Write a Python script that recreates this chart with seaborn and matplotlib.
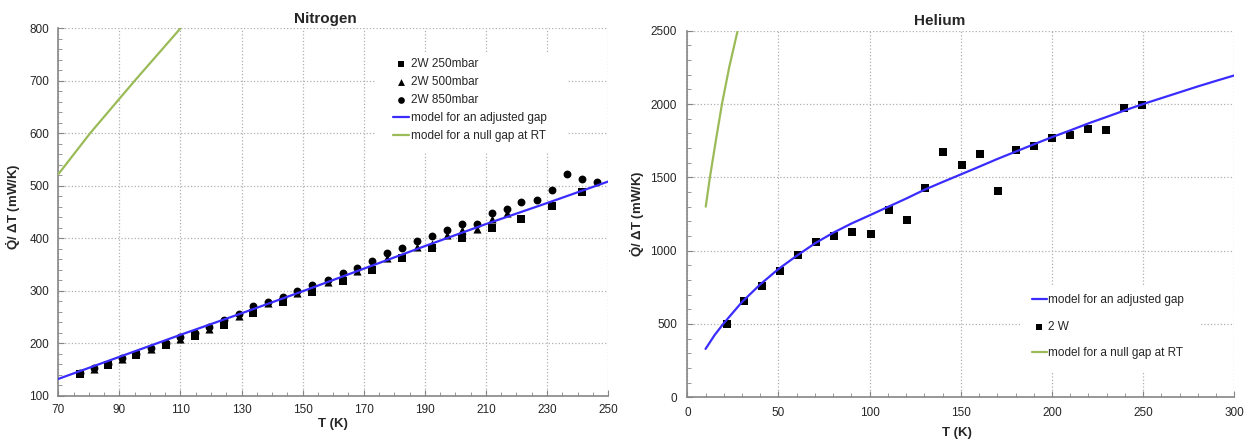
import numpy as np
import pandas as pd
import matplotlib.pyplot as plt
import seaborn as sns
from matplotlib.patches import Rectangle
from matplotlib.ticker import MultipleLocator

# ---- Nitrogen data (T in K, Q/dT in mW/K) ----
n2_250_t = [77.0, 86.3, 95.6, 105.1, 114.6, 124.3, 133.9, 143.5, 153.2, 163.1,
            172.8, 182.6, 192.4, 202.2, 212.0, 221.6, 231.5, 241.4]
n2_250_q = [141, 158, 177, 196, 214, 234, 258, 278, 298, 318,
            339, 362, 381, 400, 420, 437, 461, 488]

n2_500_t = [81.6, 90.8, 100.3, 109.9, 119.4, 129.0, 138.7, 148.3, 158.2, 167.8,
            177.7, 187.6, 192.4, 197.2, 202.2, 207.2, 212.0, 216.9]
n2_500_q = [150, 169, 189, 209, 228, 252, 276, 295, 316, 338,
            362, 384, 390, 407, 416, 418, 437, 449]

n2_850_t = [77.0, 81.6, 86.3, 90.8, 95.6, 100.3, 105.1, 109.9, 114.6, 119.4,
            124.3, 129.0, 133.9, 138.7, 143.5, 148.3, 153.2, 158.2, 163.1, 167.8,
            172.8, 177.7, 182.6, 187.6, 192.4, 197.2, 202.2, 207.2, 212.0, 216.9,
            221.6, 226.6, 231.5, 236.4, 241.4, 246.4]
n2_850_q = [144, 152, 160, 171, 180, 190, 200, 211, 220, 230,
            245, 255, 270, 278, 288, 299, 310, 321, 334, 343,
            356, 371, 381, 394, 404, 416, 428, 428, 448, 456,
            469, 473, 491, 522, 513, 508]

n2_fit_t = [70, 90, 110, 130, 150, 170, 190, 210, 230, 250]
n2_fit_q = [132, 174, 216, 257, 299, 342, 385, 427, 467, 508]

n2_null_t = [70, 80.4, 95, 110]
n2_null_q = [522, 600, 700, 800]

n2_xticks = [70, 90, 110, 130, 150, 170, 190, 210, 230, 250]

# ---- Helium data ----
he_t = [21.5, 31.3, 40.8, 50.6, 60.6, 70.6, 80.5, 90.5, 100.5, 110.5,
        120.5, 130.5, 140.4, 150.4, 160.4, 170.2, 180.4, 190.1, 200.1, 210.1,
        219.7, 229.6, 239.6, 249.6]
he_q = [499, 656, 762, 860, 973, 1059, 1103, 1125, 1114, 1277,
        1211, 1425, 1672, 1583, 1656, 1409, 1683, 1715, 1769, 1792,
        1828, 1824, 1971, 1996]

he_fit_t = [10, 15, 20, 30, 40, 50, 60, 70, 80, 90, 100, 110, 120, 130, 140, 150,
            160, 170, 180, 190, 200, 210, 220, 230, 240, 250, 260, 270, 280, 290, 300]
he_fit_q = [330, 425, 505, 650, 770, 875, 965, 1050, 1122, 1185, 1241, 1298, 1355,
            1415, 1468, 1520, 1572, 1625, 1675, 1725, 1774, 1820, 1868, 1912, 1957,
            2000, 2040, 2080, 2120, 2158, 2195]

he_null_t = [10.1, 12.4, 15.7, 19.0, 23.0, 27.6]
he_null_q = [1300, 1500, 1755, 2000, 2252, 2500]

BLUE = '#3a2cff'
GREEN = '#9bbb59'
YLABEL = r'$\mathbf{\dot{Q}}$/ ΔT (mW/K)'

sns.set_style("white")
plt.rcParams['font.family'] = ['Liberation Sans', 'DejaVu Sans']
plt.rcParams['mathtext.fontset'] = 'custom'
plt.rcParams['mathtext.rm'] = 'Liberation Sans'
plt.rcParams['mathtext.bf'] = 'Liberation Sans:bold'


def style_axes(ax, xmaj, xmin, ymaj, ymin, xpad, ypad):
    if isinstance(xmaj, list):
        ax.set_xticks(xmaj)
    else:
        ax.xaxis.set_major_locator(MultipleLocator(xmaj))
    ax.xaxis.set_minor_locator(MultipleLocator(xmin))
    ax.yaxis.set_major_locator(MultipleLocator(ymaj))
    ax.yaxis.set_minor_locator(MultipleLocator(ymin))
    ax.grid(True, which='major', color='#b0b0b0', linestyle=':', linewidth=0.9)
    ax.set_axisbelow(True)
    for side in ['top', 'right']:
        ax.spines[side].set_visible(False)
    for side in ['left', 'bottom']:
        ax.spines[side].set_color('#868686')
        ax.spines[side].set_linewidth(1.2)
    ax.tick_params(which='both', direction='in', color='#868686', labelsize=8.5,
                   bottom=True, left=True)
    ax.tick_params(which='major', length=4)
    ax.tick_params(which='minor', length=3)
    ax.tick_params(axis='x', pad=xpad)
    ax.tick_params(axis='y', pad=ypad)


fig = plt.figure(figsize=(12.54, 4.41), dpi=100)
ax1 = fig.add_axes([0.0465, 0.1027, 0.4384, 0.8331])
ax2 = fig.add_axes([0.5481, 0.0991, 0.4362, 0.8313])

# ---- Nitrogen ----
sns.scatterplot(x=n2_250_t, y=n2_250_q, marker='s', s=30, color='black',
                linewidth=0, ax=ax1, label='2W 250mbar', zorder=3)
sns.scatterplot(x=n2_500_t, y=n2_500_q, marker='^', s=34, color='black',
                linewidth=0, ax=ax1, label='2W 500mbar', zorder=3)
sns.scatterplot(x=n2_850_t, y=n2_850_q, marker='o', s=32, color='black',
                linewidth=0, ax=ax1, label='2W 850mbar', zorder=3)
sns.lineplot(x=n2_fit_t, y=n2_fit_q, color=BLUE, linewidth=1.6, ax=ax1,
             label='model for an adjusted gap', sort=False, estimator=None, zorder=4)
sns.lineplot(x=n2_null_t, y=n2_null_q, color=GREEN, linewidth=1.6, ax=ax1,
             label='model for a null gap at RT', sort=False, estimator=None, zorder=4)
style_axes(ax1, n2_xticks, 5, 100, 20, 6, 6.5)
ax1.set_xlim(70, 250)
ax1.set_ylim(100, 800)
ax1.add_patch(Rectangle((0.578, 0.663), 0.347, 0.27, transform=ax1.transAxes,
                        facecolor='white', edgecolor='none', zorder=1))
h, l = ax1.get_legend_handles_labels()
ax1.legend(h, l, loc='upper left', bbox_to_anchor=(0.609, 0.918), frameon=False,
           fontsize=8.5, borderpad=0, borderaxespad=0, labelspacing=0.5,
           handlelength=1.35, handletextpad=0.15, markerscale=0.85)
ax1.set_title('Nitrogen', fontsize=11, fontweight='bold', x=0.485, pad=4)
ax1.set_xlabel('T (K)', fontsize=9.5, fontweight='bold')
ax1.xaxis.set_label_coords(0.5, -0.062)
ax1.set_ylabel(YLABEL, fontsize=9.5, fontweight='bold')
ax1.yaxis.set_label_coords(-0.064, 0.514)

# ---- Helium ----
sns.lineplot(x=he_fit_t, y=he_fit_q, color=BLUE, linewidth=1.6, ax=ax2,
             label='model for an adjusted gap', sort=False, estimator=None, zorder=4)
sns.scatterplot(x=he_t, y=he_q, marker='s', s=34, color='black',
                linewidth=0, ax=ax2, label='2 W', zorder=3)
sns.lineplot(x=he_null_t, y=he_null_q, color=GREEN, linewidth=1.6, ax=ax2,
             label='model for a null gap at RT', sort=False, estimator=None, zorder=4)
style_axes(ax2, 50, 10, 500, 100, 7, 7.5)
ax2.set_xlim(0, 300)
ax2.set_ylim(0, 2500)
ax2.add_patch(Rectangle((0.608, 0.069), 0.331, 0.232, transform=ax2.transAxes,
                        facecolor='white', edgecolor='none', zorder=1))
h, l = ax2.get_legend_handles_labels()
order = [l.index('model for an adjusted gap'), l.index('2 W'),
         l.index('model for a null gap at RT')]
ax2.legend([h[i] for i in order], [l[i] for i in order], loc='upper left',
           bbox_to_anchor=(0.63, 0.281), frameon=False, fontsize=8.5, borderpad=0,
           borderaxespad=0, labelspacing=1.23, handlelength=1.27,
           handletextpad=0.12, markerscale=0.85)
ax2.set_title('Helium', fontsize=11, fontweight='bold', x=0.462, pad=4)
ax2.set_xlabel('T (K)', fontsize=9.5, fontweight='bold')
ax2.xaxis.set_label_coords(0.493, -0.080)
ax2.set_ylabel(YLABEL, fontsize=9.5, fontweight='bold')
ax2.yaxis.set_label_coords(-0.0746, 0.5)

fig.savefig('out.png', dpi=100)
